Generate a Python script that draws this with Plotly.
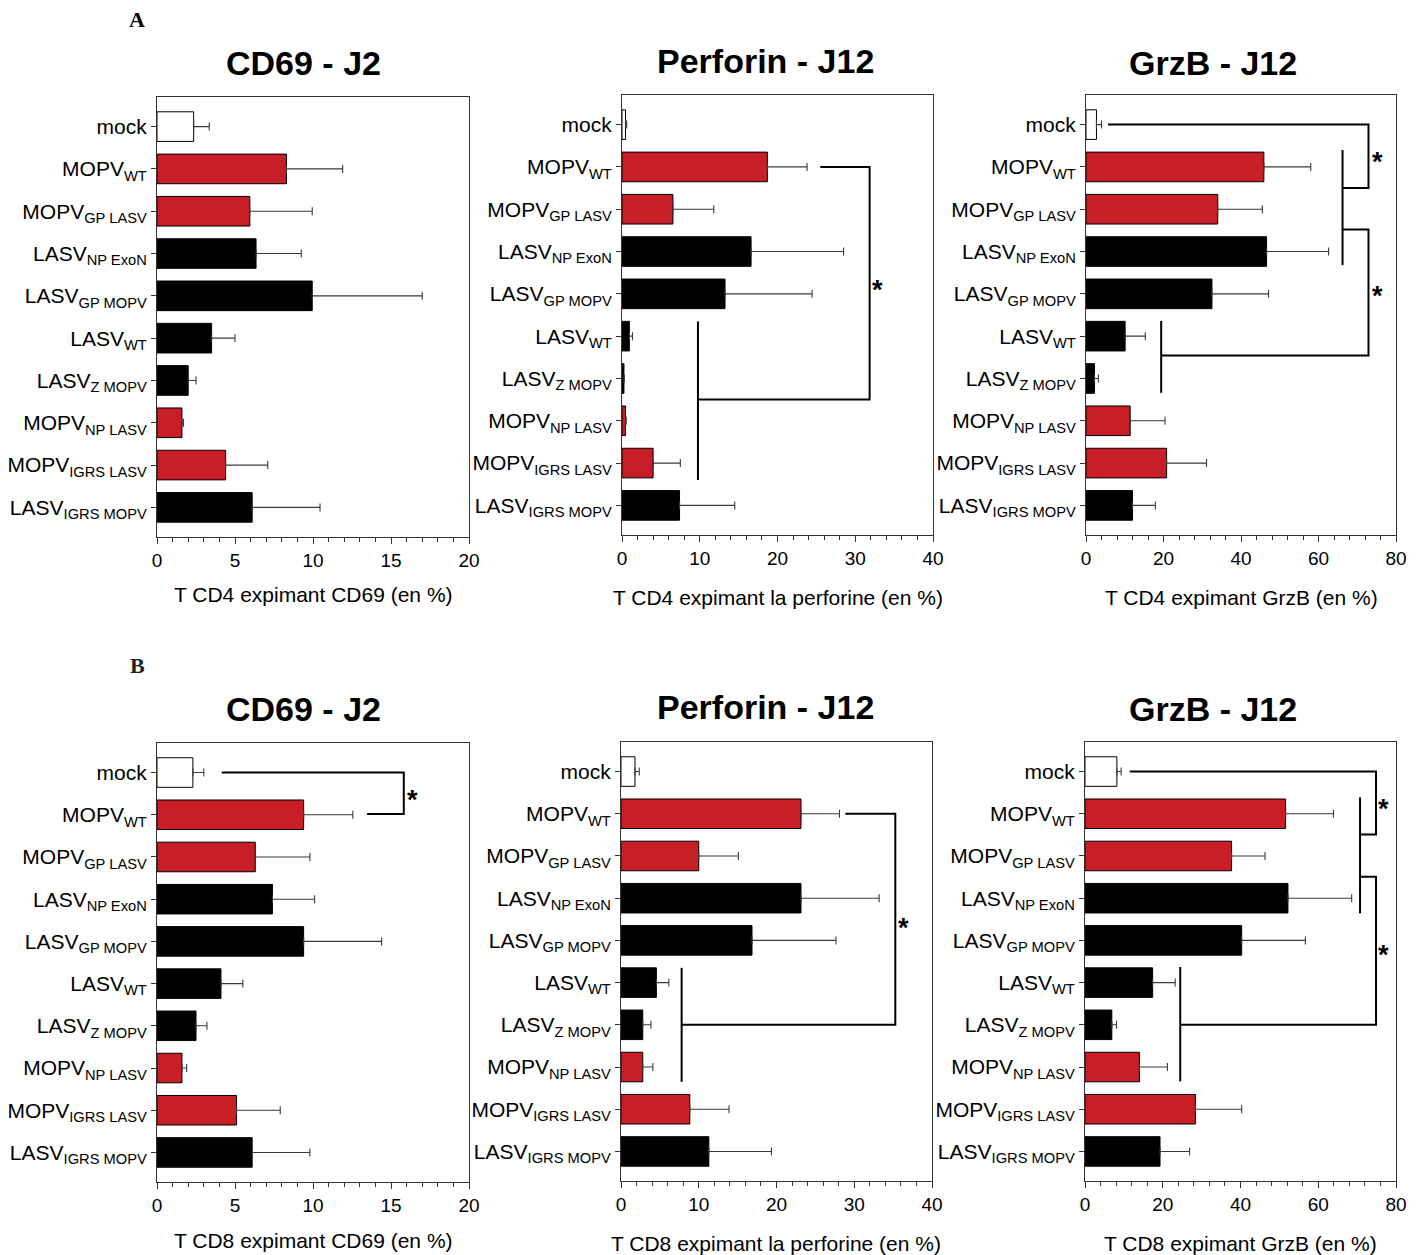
import plotly.graph_objects as go

# ---------------- data ----------------
categories = [
    "mock",
    "MOPV<sub>WT</sub>",
    "MOPV<sub>GP LASV</sub>",
    "LASV<sub>NP ExoN</sub>",
    "LASV<sub>GP MOPV</sub>",
    "LASV<sub>WT</sub>",
    "LASV<sub>Z MOPV</sub>",
    "MOPV<sub>NP LASV</sub>",
    "MOPV<sub>IGRS LASV</sub>",
    "LASV<sub>IGRS MOPV</sub>",
]
virus_group = ["mock", "MOPV", "MOPV", "LASV", "LASV", "LASV", "LASV", "MOPV", "MOPV", "LASV"]

cd4_cd69_mean = [2.35, 8.3, 5.95, 6.35, 9.95, 3.5, 2.0, 1.6, 4.4, 6.1]
cd4_cd69_sd = [1.0, 3.6, 4.0, 2.9, 7.05, 1.5, 0.5, 0.1, 2.7, 4.35]
cd4_perf_mean = [0.45, 18.7, 6.55, 16.6, 13.25, 0.95, 0.25, 0.45, 4.0, 7.4]
cd4_perf_sd = [0.15, 5.1, 5.25, 11.9, 11.2, 0.4, 0.05, 0.1, 3.5, 7.1]
cd4_grzb_mean = [2.7, 45.9, 34.0, 46.6, 32.5, 10.1, 2.2, 11.4, 20.8, 12.0]
cd4_grzb_sd = [1.3, 12.1, 11.5, 16.0, 14.6, 5.2, 1.0, 9.0, 10.3, 5.9]

cd8_cd69_mean = [2.3, 9.4, 6.3, 7.4, 9.4, 4.1, 2.5, 1.6, 5.1, 6.1]
cd8_cd69_sd = [0.7, 3.15, 3.5, 2.7, 5.0, 1.4, 0.7, 0.3, 2.8, 3.7]
cd8_perf_mean = [1.8, 23.15, 10.0, 23.15, 16.85, 4.55, 2.8, 2.8, 8.85, 11.3]
cd8_perf_sd = [0.55, 4.95, 5.1, 10.05, 10.8, 1.6, 1.05, 1.3, 5.05, 8.05]
cd8_grzb_mean = [8.2, 51.6, 37.7, 52.2, 40.3, 17.4, 6.9, 14.0, 28.4, 19.3]
cd8_grzb_sd = [1.1, 12.3, 8.6, 16.4, 16.4, 5.8, 1.2, 7.2, 11.9, 7.6]

panel_titles = ["CD69 - J2", "Perforin - J12", "GrzB - J12",
                "CD69 - J2", "Perforin - J12", "GrzB - J12"]
axis_titles = ["T CD4 expimant CD69 (en %)", "T CD4 expimant la perforine (en %)",
               "T CD4 expimant GrzB (en %)", "T CD8 expimant CD69 (en %)",
               "T CD8 expimant la perforine (en %)", "T CD8 expimant GrzB (en %)"]
x_max = [20, 40, 80, 20, 40, 80]
x_major = [5, 10, 20, 5, 10, 20]
x_minor = [1, 2, 4, 1, 2, 4]

# significance brackets (data coords: value, category index) and stars
brackets = {
    1: ([], []),
    2: ([[(25.5, 1), (31.85, 1), (31.85, 6.5), (9.77, 6.5)],
         [(9.77, 4.65), (9.77, 8.4)]],
        [(32.9, 3.75)]),
    3: ([[(5.7, 0), (72.9, 0), (72.9, 1.5), (66.2, 1.5)],
         [(66.2, 0.6), (66.2, 3.32)],
         [(66.2, 2.48), (72.9, 2.48), (72.9, 5.46), (19.4, 5.46)],
         [(19.4, 4.64), (19.4, 6.34)]],
        [(75.1, 0.71), (75.1, 3.89)]),
    4: ([[(4.15, 0), (15.82, 0), (15.82, 0.98), (13.47, 0.98)]],
        [(16.4, 0.49)]),
    5: ([[(28.85, 1), (35.28, 1), (35.28, 6.0), (7.8, 6.0)],
         [(7.8, 4.65), (7.8, 7.35)]],
        [(36.3, 3.53)]),
    6: ([[(11.5, 0), (74.86, 0), (74.86, 1.49), (70.75, 1.49)],
         [(70.75, 0.61), (70.75, 3.36)],
         [(70.75, 2.49), (74.86, 2.49), (74.86, 6.0), (24.5, 6.0)],
         [(24.5, 4.63), (24.5, 7.34)]],
        [(76.7, 0.72), (76.7, 4.18)]),
}

means = [cd4_cd69_mean, cd4_perf_mean, cd4_grzb_mean, cd8_cd69_mean, cd8_perf_mean, cd8_grzb_mean]
sds = [cd4_cd69_sd, cd4_perf_sd, cd4_grzb_sd, cd8_cd69_sd, cd8_perf_sd, cd8_grzb_sd]

# ---------------- layout ----------------
W, H = 1426, 1255
RED = "#C81E28"
group_color = {"mock": "white", "MOPV": RED, "LASV": "black"}
fill_colors = [group_color[g] for g in virus_group]

# plot boxes in pixels (left, right, top, bottom)
boxes = [(157, 469, 97, 537), (622, 933, 95, 535), (1086, 1396, 95, 535),
         (157, 469, 743, 1182), (621, 932, 742, 1181), (1085, 1396, 742, 1181)]
title_pos = [(303, 63), (766, 61), (1213, 63), (303, 709), (766, 707), (1213, 709)]
xtitle_pos = [(313, 594), (778, 597), (1241, 597), (313, 1240), (776, 1243), (1240, 1243)]

FONT = "Liberation Sans, Arial, sans-serif"
LINE = "#333333"

fig = go.Figure()
annotations = []
shapes = []

for i in range(6):
    k = i + 1
    xa = "x" if k == 1 else f"x{k}"
    ya = "y" if k == 1 else f"y{k}"
    fig.add_trace(go.Bar(
        x=means[i], y=categories, orientation="h",
        marker=dict(color=fill_colors, line=dict(color="black", width=1)),
        width=0.7,
        error_x=dict(type="data", symmetric=False, array=sds[i],
                     arrayminus=[0] * len(sds[i]), color="#3a3a3a",
                     thickness=1.1, width=4),
        xaxis=xa, yaxis=ya, showlegend=False, hoverinfo="x+y",
    ))
    l, r, t, b = boxes[i]
    fig.layout[f"xaxis{k}"] = dict(
        domain=[l / W, r / W], range=[0, x_max[i]], anchor=ya,
        tickmode="linear", tick0=0, dtick=x_major[i],
        ticks="outside", ticklen=6, tickwidth=1, tickcolor=LINE,
        showline=True, linecolor=LINE, linewidth=1, mirror=True,
        showgrid=False, zeroline=False, automargin=False,
        tickfont=dict(family=FONT, size=19, color="black"),
        minor=dict(dtick=x_minor[i], tick0=0, ticks="outside", ticklen=4,
                   tickcolor=LINE, showgrid=False),
        fixedrange=True,
    )
    fig.layout[f"yaxis{k}"] = dict(
        domain=[1 - b / H, 1 - t / H], type="category",
        range=[9.7, -0.7], anchor=xa,
        ticks="outside", ticklen=5, tickwidth=1, tickcolor=LINE,
        showline=True, linecolor=LINE, linewidth=1, mirror=True,
        showgrid=False, zeroline=False, automargin=False,
        tickfont=dict(family=FONT, size=21, color="black"),
        fixedrange=True,
    )
    tx, ty = title_pos[i]
    annotations.append(dict(text=f"<b>{panel_titles[i]}</b>", xref="paper", yref="paper",
                            x=tx / W, y=1 - ty / H, xanchor="center", yanchor="middle",
                            showarrow=False, font=dict(family=FONT, size=34, color="black")))
    ax, ay = xtitle_pos[i]
    annotations.append(dict(text=axis_titles[i], xref="paper", yref="paper",
                            x=ax / W, y=1 - ay / H, xanchor="center", yanchor="middle",
                            showarrow=False, font=dict(family=FONT, size=21, color="black")))
    lines, stars = brackets[k]
    for pts in lines:
        path = "M " + " L ".join(f"{px},{py}" for px, py in pts)
        shapes.append(dict(type="path", path=path, xref=xa, yref=ya,
                           line=dict(color="black", width=2), layer="above"))
    for sx, sy in stars:
        annotations.append(dict(text="<b>*</b>", xref=xa, yref=ya, x=sx, y=sy,
                                xanchor="center", yanchor="middle", yshift=-7,
                                showarrow=False, font=dict(family=FONT, size=27, color="black")))

annotations.append(dict(text="<b>A</b>", xref="paper", yref="paper", x=137 / W, y=1 - 20 / H,
                        xanchor="center", yanchor="middle", showarrow=False,
                        font=dict(family="Liberation Serif, DejaVu Serif, serif", size=22, color="black")))
annotations.append(dict(text="<b>B</b>", xref="paper", yref="paper", x=137 / W, y=1 - 665 / H,
                        xanchor="center", yanchor="middle", showarrow=False,
                        font=dict(family="Liberation Serif, DejaVu Serif, serif", size=22, color="#222")))

fig.update_layout(
    width=W, height=H, template="none",
    margin=dict(l=0, r=0, t=0, b=0, autoexpand=False),
    paper_bgcolor="white", plot_bgcolor="white",
    bargap=0.3, showlegend=False,
    annotations=annotations, shapes=shapes,
    font=dict(family=FONT, color="black"),
)

fig.write_html("out.html", config={"displayModeBar": False},
               post_script="document.body.style.margin='0';document.body.style.overflow='hidden';")
